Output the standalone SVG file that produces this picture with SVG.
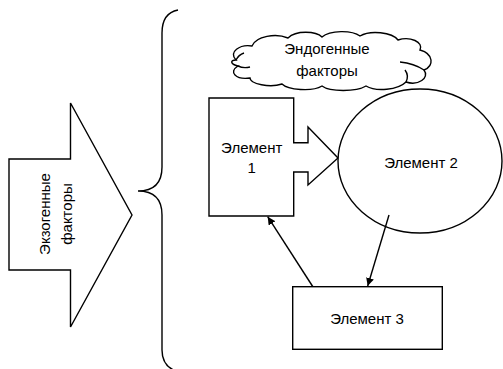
<svg xmlns="http://www.w3.org/2000/svg" width="503" height="369" viewBox="0 0 503 369">
<style>
.s{fill:#fff;stroke:#000;stroke-width:1.4}
.l{fill:none;stroke:#000;stroke-width:1.4}
.t{font-family:"Liberation Sans",Arial,sans-serif;font-size:15px;fill:#000;text-anchor:middle}
</style>
<defs>
<marker id="ah" viewBox="0 0 10 10" refX="10" refY="5" markerWidth="8" markerHeight="8" markerUnits="userSpaceOnUse" orient="auto">
<path d="M0,0 L10,5 L0,10 Z" fill="#000"/>
</marker>
</defs>
<rect width="503" height="369" fill="#fff"/>
<g id="exo">
<polygon class="s" points="9,159 70.5,159 70.5,103 132,215 70.5,327 70.5,270 9,270"/>
<text class="t" transform="translate(50,214) rotate(-90)">Экзогенные</text>
<text class="t" transform="translate(72,214) rotate(-90)">факторы</text>
</g>
<g id="brace">
<path class="l" d="M178,10 Q162,13 162,33 V167 Q162,191 138,191 Q162,191 162,215 V350 Q162,366 176,371"/>
</g>
<g id="endo">
<path class="s" d="M236,60 C228,52 240,44 252,46 C256,36 276,33 288,38 C296,30 316,31 322,37 C330,30 352,30 360,36 C370,30 392,32 398,40 C410,36 424,42 420,50 C434,54 434,66 424,70 C430,78 418,86 406,82 C398,90 376,92 366,86 C356,92 330,92 322,86 C312,92 288,90 282,84 C270,88 250,84 250,78 C236,80 228,72 238,66 C230,64 230,60 236,60 Z"/>
<path class="l" d="M238,66 C242,68 246,68 250,67 M236,60 C238,56 241,54 244,53 M406,82 C408,78 408,74 405,70 M424,70 C418,66 410,63 400,62"/>
<text class="t" x="327" y="54">Эндогенные</text>
<text class="t" x="327" y="76">факторы</text>
</g>
<g id="el1">
<path class="s" d="M209,98 H293.7 V142.7 H308 V127 L338,158 L308,185 V172 H293.7 V216 H209 Z"/>
<text class="t" x="251.7" y="153">Элемент</text>
<text class="t" x="251.7" y="173">1</text>
</g>
<g id="el2">
<ellipse class="s" cx="420" cy="161" rx="82" ry="72"/>
<text class="t" x="421" y="168">Элемент 2</text>
</g>
<g id="el3">
<rect class="s" x="292.7" y="286.7" width="149.6" height="62.6"/>
<text class="t" x="367" y="324">Элемент 3</text>
</g>
<g id="connectors">
<line class="l" x1="389" y1="215" x2="367.7" y2="286" marker-end="url(#ah)"/>
<line class="l" x1="312.7" y1="286.5" x2="267.7" y2="216.7" marker-end="url(#ah)"/>
</g>
</svg>
